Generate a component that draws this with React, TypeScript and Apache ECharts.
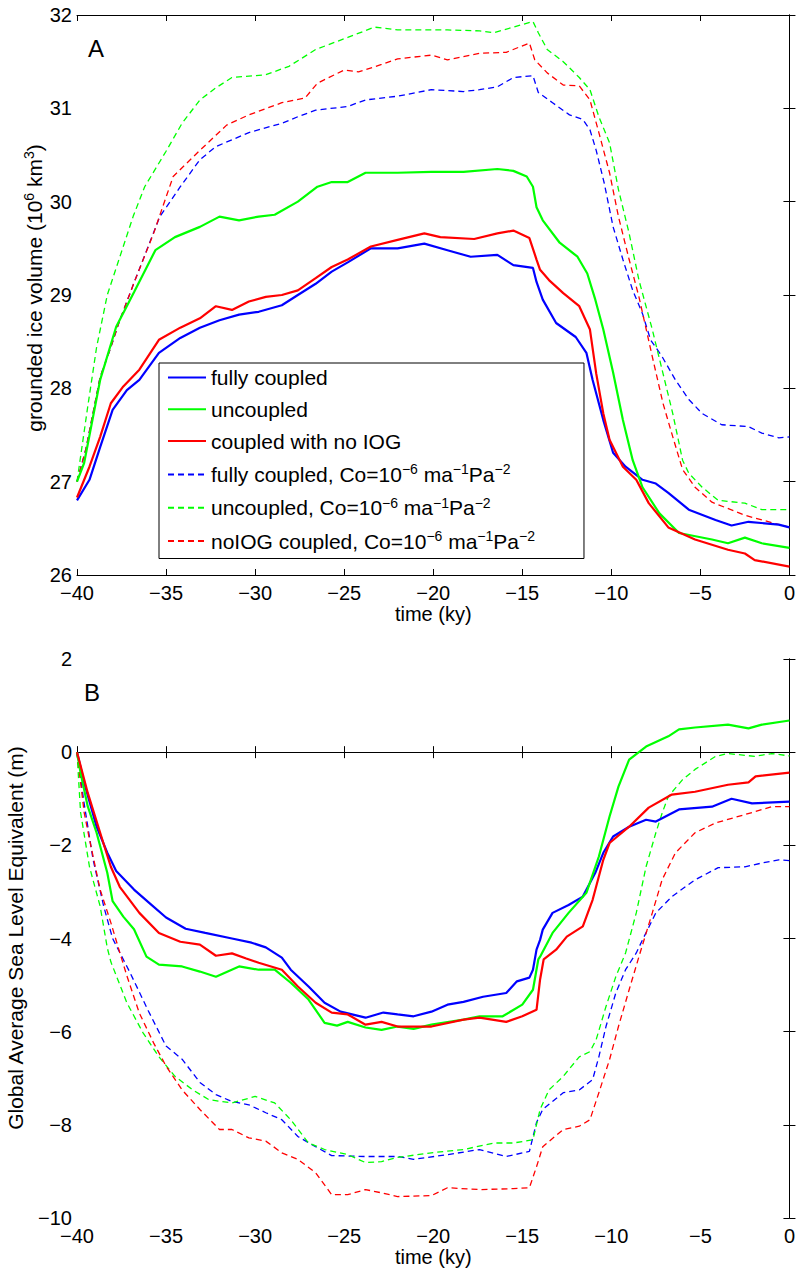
import React, { useEffect, useRef } from "react";
import * as echarts from "echarts";

// ---------- DATA (time in ky, values) ----------
const X_TICKS = [-40, -35, -30, -25, -20, -15, -10, -5, 0];
const A_TICKS = [26, 27, 28, 29, 30, 31, 32];
const B_TICKS = [-10, -8, -6, -4, -2, 0, 2];

const SERIES_NAMES = [
  "fully coupled",
  "uncoupled",
  "coupled with no IOG",
  "fully coupled, Co",
  "uncoupled, Co",
  "noIOG coupled, Co",
];

// Panel A: grounded ice volume (10^6 km^3)
const A_fully = [[-40, 26.8], [-39.3, 27.02], [-38.7, 27.37], [-38, 27.77], [-37.2, 27.98], [-36.5, 28.09], [-35.4, 28.38], [-34.2, 28.54], [-33.1, 28.65], [-32, 28.73], [-30.9, 28.79], [-29.8, 28.82], [-28.5, 28.89], [-27.6, 29.0], [-26.6, 29.12], [-25.7, 29.25], [-24.8, 29.35], [-23.5, 29.5], [-22, 29.5], [-20.5, 29.55], [-19.2, 29.48], [-17.9, 29.41], [-16.4, 29.43], [-15.5, 29.32], [-14.4, 29.29], [-14.2, 29.14], [-13.85, 28.95], [-13.1, 28.7], [-12, 28.55], [-11.4, 28.38], [-11.05, 28.09], [-10.45, 27.66], [-9.9, 27.31], [-9.2, 27.16], [-8.25, 27.02], [-7.5, 26.98], [-6.8, 26.88], [-5.65, 26.7], [-4.15, 26.59], [-3.25, 26.53], [-2.3, 26.57], [-0.6, 26.54], [0, 26.51]];
const A_uncoupled = [[-40, 27.0], [-39.6, 27.2], [-38.7, 28.09], [-37.8, 28.66], [-36.8, 29.03], [-35.6, 29.48], [-34.5, 29.62], [-33.1, 29.73], [-32, 29.84], [-30.9, 29.8], [-29.8, 29.84], [-28.9, 29.86], [-27.6, 30.0], [-26.5, 30.16], [-25.7, 30.21], [-24.8, 30.21], [-23.8, 30.31], [-22, 30.31], [-20.1, 30.32], [-18.3, 30.32], [-16.4, 30.35], [-15.5, 30.33], [-14.75, 30.27], [-14.4, 30.16], [-14.2, 29.94], [-13.85, 29.8], [-12.9, 29.56], [-11.9, 29.41], [-11.35, 29.23], [-10.9, 28.95], [-10.45, 28.63], [-9.9, 28.17], [-9.35, 27.66], [-8.8, 27.23], [-8.25, 26.94], [-7.3, 26.66], [-6.2, 26.45], [-4.35, 26.38], [-3.45, 26.34], [-2.5, 26.4], [-1.55, 26.34], [0, 26.29]];
const A_noIOG = [[-40, 26.83], [-39.3, 27.16], [-38.7, 27.48], [-38.1, 27.84], [-37.4, 28.02], [-36.5, 28.2], [-35.4, 28.52], [-34.2, 28.65], [-33.1, 28.75], [-32.2, 28.88], [-31.3, 28.84], [-30.35, 28.93], [-29.4, 28.98], [-28.5, 29.0], [-27.6, 29.05], [-26.6, 29.18], [-25.7, 29.3], [-24.8, 29.38], [-23.5, 29.52], [-22, 29.59], [-20.5, 29.66], [-19.6, 29.62], [-17.7, 29.6], [-16.4, 29.66], [-15.5, 29.69], [-14.6, 29.61], [-14.2, 29.38], [-14.0, 29.27], [-13.5, 29.16], [-12.7, 29.02], [-11.8, 28.88], [-11.2, 28.63], [-10.85, 28.16], [-10.45, 27.73], [-10.1, 27.45], [-9.35, 27.16], [-8.6, 27.02], [-7.9, 26.77], [-6.8, 26.51], [-5.3, 26.38], [-3.45, 26.27], [-2.5, 26.23], [-1.95, 26.16], [0, 26.09]];
const A_fullyCo = [[-40, 27.0], [-39.5, 27.35], [-38.7, 28.12], [-38.1, 28.44], [-37.6, 28.73], [-36.8, 29.13], [-35.35, 29.84], [-34.2, 30.16], [-33.1, 30.45], [-32.2, 30.59], [-30.35, 30.74], [-28.5, 30.84], [-27.6, 30.91], [-26.6, 30.98], [-24.8, 31.02], [-23.8, 31.09], [-22, 31.13], [-20.1, 31.2], [-18.3, 31.18], [-17.4, 31.2], [-16.4, 31.23], [-15.5, 31.33], [-14.4, 31.35], [-14.1, 31.17], [-13.3, 31.06], [-12.35, 30.93], [-11.6, 30.88], [-11.2, 30.77], [-10.85, 30.55], [-10.4, 30.2], [-9.9, 29.73], [-9.35, 29.38], [-8.8, 29.05], [-8.25, 28.8], [-7.8, 28.52], [-7.15, 28.34], [-6.4, 28.09], [-5.65, 27.88], [-4.9, 27.73], [-3.8, 27.61], [-2.3, 27.59], [-1.55, 27.52], [-0.6, 27.47], [0, 27.48]];
const A_uncoupledCo = [[-40, 27.0], [-39.4, 27.8], [-38.9, 28.44], [-38.3, 29.0], [-36.85, 29.84], [-36.2, 30.16], [-35, 30.54], [-34.1, 30.84], [-33.1, 31.09], [-32.2, 31.22], [-31.3, 31.33], [-29.4, 31.36], [-28.1, 31.45], [-26.6, 31.63], [-24.8, 31.76], [-23.3, 31.87], [-22, 31.84], [-19.2, 31.84], [-17.4, 31.83], [-16.6, 31.81], [-15.5, 31.87], [-14.4, 31.93], [-14.1, 31.81], [-13.6, 31.63], [-12.7, 31.5], [-11.8, 31.33], [-11.2, 31.2], [-10.7, 30.91], [-10.1, 30.63], [-9.6, 30.13], [-9.0, 29.66], [-8.45, 29.16], [-7.7, 28.63], [-7.1, 28.16], [-6.55, 27.73], [-6.0, 27.23], [-5.65, 27.09], [-4.9, 26.94], [-4.0, 26.8], [-2.5, 26.77], [-1.55, 26.7], [0, 26.7]];
const A_noIOGCo = [[-40, 27.0], [-39.5, 27.35], [-38.7, 28.12], [-38.1, 28.44], [-37.6, 28.73], [-36.8, 29.13], [-35.7, 29.66], [-34.6, 30.27], [-33.1, 30.55], [-31.6, 30.82], [-30.35, 30.93], [-28.5, 31.06], [-27.2, 31.11], [-26.5, 31.27], [-25, 31.41], [-24.2, 31.39], [-22.9, 31.47], [-22, 31.53], [-20.1, 31.57], [-19.2, 31.52], [-17.4, 31.59], [-15.9, 31.6], [-14.6, 31.7], [-14.3, 31.52], [-13.6, 31.38], [-12.7, 31.25], [-11.8, 31.24], [-11.2, 31.09], [-10.7, 30.74], [-10.1, 30.31], [-9.6, 29.84], [-9.0, 29.38], [-8.45, 28.98], [-7.7, 28.34], [-7.1, 27.84], [-6.55, 27.48], [-6.0, 27.13], [-5.3, 26.94], [-4.35, 26.78], [-2.5, 26.64], [-1.55, 26.59], [0, 26.51]];

// Panel B: global average sea level equivalent (m)
const B_fully = [[-40, 0], [-39.6, -0.65], [-38.9, -1.6], [-38.3, -2.16], [-37.8, -2.55], [-36.8, -2.95], [-35.9, -3.25], [-35, -3.55], [-33.9, -3.79], [-32.8, -3.88], [-31.3, -4.0], [-30.2, -4.09], [-29.4, -4.19], [-28.5, -4.41], [-28, -4.67], [-27, -5.03], [-26.1, -5.38], [-25.2, -5.57], [-23.8, -5.7], [-22.8, -5.59], [-22, -5.63], [-21.1, -5.67], [-20.1, -5.57], [-19.2, -5.42], [-18.3, -5.36], [-17.2, -5.25], [-15.9, -5.17], [-15.3, -4.92], [-14.6, -4.84], [-14.4, -4.67], [-14.2, -4.24], [-14.0, -4.03], [-13.85, -3.81], [-13.3, -3.45], [-12.4, -3.28], [-11.6, -3.1], [-10.9, -2.59], [-10.45, -2.16], [-9.9, -1.81], [-9.0, -1.6], [-8.05, -1.45], [-7.5, -1.49], [-6.2, -1.23], [-4.35, -1.17], [-3.25, -1.0], [-2.1, -1.1], [0, -1.06]];
const B_uncoupled = [[-40, 0], [-39.8, -0.44], [-39.4, -1.16], [-38.9, -1.73], [-38.3, -2.59], [-38, -3.2], [-37.4, -3.53], [-36.8, -3.8], [-36.1, -4.39], [-35.4, -4.56], [-34.1, -4.6], [-33.1, -4.71], [-32.2, -4.82], [-30.9, -4.6], [-29.8, -4.67], [-28.9, -4.67], [-28, -4.95], [-27, -5.31], [-26.1, -5.81], [-25.4, -5.87], [-24.8, -5.79], [-23.8, -5.91], [-22.9, -5.96], [-22, -5.89], [-21.1, -5.94], [-20.1, -5.85], [-18.3, -5.74], [-17.4, -5.67], [-16.1, -5.67], [-15, -5.42], [-14.4, -5.1], [-14.1, -4.45], [-14, -4.39], [-13.3, -3.88], [-12.4, -3.45], [-11.4, -3.02], [-10.7, -2.24], [-10.1, -1.38], [-9.6, -0.74], [-9.0, -0.16], [-8.05, 0.12], [-6.8, 0.34], [-6.2, 0.49], [-5.3, 0.53], [-3.45, 0.59], [-2.3, 0.51], [-1.55, 0.59], [0, 0.68]];
const B_noIOG = [[-40, 0], [-39.4, -0.87], [-38.7, -1.73], [-38.1, -2.46], [-37.6, -2.89], [-36.5, -3.45], [-35.4, -3.88], [-34.2, -4.07], [-33.1, -4.13], [-32.2, -4.37], [-31.3, -4.32], [-30.5, -4.43], [-29.8, -4.52], [-28.5, -4.67], [-27.6, -5.03], [-26.6, -5.38], [-25.7, -5.59], [-24.8, -5.63], [-23.8, -5.85], [-22.9, -5.79], [-22, -5.89], [-20.1, -5.89], [-18.3, -5.74], [-17.4, -5.7], [-15.9, -5.79], [-15, -5.67], [-14.2, -5.53], [-14, -4.88], [-13.8, -4.45], [-13.1, -4.24], [-12.5, -3.96], [-11.6, -3.74], [-11.05, -3.17], [-10.45, -2.31], [-10.1, -1.95], [-9.0, -1.6], [-7.9, -1.19], [-6.6, -0.91], [-5.3, -0.85], [-3.45, -0.7], [-2.3, -0.65], [-1.9, -0.52], [0, -0.44]];
const B_fullyCo = [[-40, 0], [-39.6, -1.1], [-39.1, -2.3], [-38.5, -3.31], [-38, -4.0], [-37, -4.75], [-36, -5.55], [-35, -6.31], [-34.1, -6.59], [-33.1, -7.09], [-32.2, -7.35], [-31.3, -7.5], [-30.35, -7.57], [-29.4, -7.74], [-28.5, -7.89], [-27.6, -8.25], [-26.6, -8.47], [-25.7, -8.66], [-23.8, -8.68], [-22, -8.68], [-21.1, -8.74], [-19.2, -8.64], [-17.4, -8.53], [-15.9, -8.68], [-14.6, -8.57], [-14.2, -7.95], [-13.85, -7.67], [-12.7, -7.31], [-11.8, -7.25], [-11.05, -7.03], [-10.7, -6.54], [-10.3, -5.89], [-9.75, -5.17], [-9.2, -4.67], [-8.6, -4.31], [-8.25, -4.03], [-7.5, -3.45], [-6.6, -3.1], [-5.3, -2.74], [-4.0, -2.48], [-2.5, -2.46], [-1.55, -2.38], [-0.6, -2.31], [0, -2.33]];
const B_uncoupledCo = [[-40, 0], [-39.8, -1.29], [-39.3, -2.46], [-38.7, -3.31], [-38.3, -4.2], [-38.1, -4.5], [-37.2, -5.38], [-36.3, -6.02], [-35.4, -6.54], [-34.5, -6.96], [-33.5, -7.25], [-32.6, -7.46], [-31.3, -7.53], [-30, -7.39], [-28.9, -7.53], [-28, -7.89], [-27, -8.39], [-26.1, -8.53], [-24.8, -8.64], [-23.8, -8.81], [-22.9, -8.79], [-22, -8.7], [-20.1, -8.6], [-18.3, -8.53], [-16.6, -8.39], [-15.5, -8.39], [-14.4, -8.32], [-14, -7.67], [-13.5, -7.25], [-12.7, -6.96], [-11.8, -6.54], [-11.2, -6.43], [-10.85, -6.17], [-10.3, -5.46], [-9.75, -4.82], [-9.2, -4.31], [-8.6, -3.45], [-8.05, -2.46], [-7.5, -1.73], [-7.15, -1.31], [-6.8, -0.95], [-6.0, -0.59], [-5.3, -0.37], [-4.15, -0.09], [-3.45, -0.03], [-1.95, -0.09], [-1.0, -0.03], [0, -0.08]];
const B_noIOGCo = [[-40, 0], [-39.6, -1.29], [-39.3, -1.87], [-38.7, -2.95], [-38.1, -3.66], [-37.6, -4.3], [-37.2, -4.8], [-36.5, -5.6], [-35.7, -6.24], [-35, -6.74], [-34.1, -7.25], [-33.1, -7.67], [-32, -8.1], [-31.3, -8.1], [-30.35, -8.28], [-29.4, -8.35], [-28.5, -8.6], [-27.6, -8.74], [-26.6, -9.03], [-25.7, -9.5], [-24.8, -9.5], [-23.8, -9.39], [-22.9, -9.46], [-22, -9.54], [-20.1, -9.52], [-19.2, -9.35], [-17.4, -9.39], [-15.5, -9.37], [-14.6, -9.35], [-14.2, -8.9], [-13.85, -8.47], [-12.7, -8.1], [-11.8, -8.03], [-11.2, -7.89], [-10.7, -7.31], [-10.1, -6.6], [-9.6, -5.89], [-9.0, -5.1], [-8.45, -4.39], [-7.7, -3.45], [-7.15, -2.74], [-6.4, -2.16], [-5.3, -1.73], [-4.15, -1.52], [-2.5, -1.34], [-1.0, -1.17], [0, -1.17]];

const PANEL_A = [A_fully, A_uncoupled, A_noIOG, A_fullyCo, A_uncoupledCo, A_noIOGCo];
const PANEL_B = [B_fully, B_uncoupled, B_noIOG, B_fullyCo, B_uncoupledCo, B_noIOGCo];
const COLORS = ["#0000ff", "#00ff00", "#ff0000", "#0000ff", "#00ff00", "#ff0000"];
const DASHED = [false, false, false, true, true, true];

const FONT = '"Liberation Sans", Arial, Helvetica, sans-serif';

const LEGEND_TEXT: Record<string, string> = {
  "fully coupled": "{n|fully coupled}",
  "uncoupled": "{n|uncoupled}",
  "coupled with no IOG": "{n|coupled with no IOG}",
  "fully coupled, Co": "{n|fully coupled, Co=10}{s|\u22126}{n| ma}{s|\u22121}{n|Pa}{s|\u22122}",
  "uncoupled, Co": "{n|uncoupled, Co=10}{s|\u22126}{n| ma}{s|\u22121}{n|Pa}{s|\u22122}",
  "noIOG coupled, Co": "{n|noIOG coupled, Co=10}{s|\u22126}{n| ma}{s|\u22121}{n|Pa}{s|\u22122}",
};

const fmt = (v: number) => (v < 0 ? "\u2212" + Math.abs(v) : String(v));

function buildOption() {
  const grids = [
    { left: 77, top: 15, width: 717, height: 560 },
    { left: 77, top: 659, width: 717, height: 559 },
  ];
  const axisLine = { show: true, lineStyle: { color: "#000", width: 1 } };
  const tick = { show: true, inside: true, length: 6, lineStyle: { color: "#000", width: 1 } };
  const xAxes: any[] = [];
  const yAxes: any[] = [];
  const yRanges = [
    { min: A_TICKS[0], max: A_TICKS[A_TICKS.length - 1], interval: A_TICKS[1] - A_TICKS[0] },
    { min: B_TICKS[0], max: B_TICKS[B_TICKS.length - 1], interval: B_TICKS[1] - B_TICKS[0] },
  ];
  [0, 1].forEach((g) => {
    xAxes.push({
      type: "value", gridIndex: g, position: "bottom",
      min: X_TICKS[0], max: X_TICKS[X_TICKS.length - 1], interval: X_TICKS[1] - X_TICKS[0],
      axisLine, axisTick: tick, splitLine: { show: false },
      axisLabel: { show: true, fontSize: 20, color: "#000", fontFamily: FONT, margin: 8, formatter: fmt },
      name: "time (ky)", nameLocation: "middle", nameGap: 29,
      nameTextStyle: { fontSize: 20, color: "#000", fontFamily: FONT },
    });
    xAxes.push({
      type: "value", gridIndex: g, position: "top",
      min: X_TICKS[0], max: X_TICKS[X_TICKS.length - 1], interval: X_TICKS[1] - X_TICKS[0],
      axisLine, axisTick: tick, splitLine: { show: false }, axisLabel: { show: false },
    });
    yAxes.push({
      type: "value", gridIndex: g, position: "left", ...yRanges[g],
      axisLine, axisTick: tick, splitLine: { show: false },
      axisLabel: { show: true, fontSize: 20, color: "#000", fontFamily: FONT, margin: 5, formatter: fmt },
    });
    yAxes.push({
      type: "value", gridIndex: g, position: "right", ...yRanges[g],
      axisLine, axisTick: tick, splitLine: { show: false }, axisLabel: { show: false },
    });
  });

  const series: any[] = [];
  [PANEL_A, PANEL_B].forEach((panel, g) => {
    panel.forEach((data, i) => {
      series.push({
        type: "line",
        name: SERIES_NAMES[i],
        xAxisIndex: g * 2,
        yAxisIndex: g * 2,
        data,
        symbol: "none",
        showSymbol: false,
        clip: true,
        itemStyle: { color: COLORS[i] },
        lineStyle: {
          color: COLORS[i],
          width: DASHED[i] ? 1.3 : 2.2,
          type: DASHED[i] ? [6, 4] : "solid",
        },
        emphasis: { disabled: true },
        z: DASHED[i] ? 2 : 3,
      });
    });
  });

  const richLabel = {
    n: { fontSize: 21, lineHeight: 24, fontFamily: FONT, color: "#000" },
    s: { fontSize: 14, lineHeight: 14, fontFamily: FONT, color: "#000", verticalAlign: "top" },
  };

  return {
    animation: false,
    backgroundColor: "#fff",
    textStyle: { fontFamily: FONT },
    grid: grids,
    xAxis: xAxes,
    yAxis: yAxes,
    series,
    legend: {
      show: true,
      data: SERIES_NAMES,
      orient: "vertical",
      left: 159,
      top: 363,
      padding: [4, 49, 7, 8],
      itemGap: 10.8,
      itemWidth: 38,
      itemHeight: 14,
      itemStyle: { opacity: 0 },
      backgroundColor: "#fff",
      borderColor: "#000",
      borderWidth: 1,
      borderRadius: 0,
      selectedMode: false,
      formatter: (name: string) => LEGEND_TEXT[name] || name,
      textStyle: { fontSize: 21, color: "#000", fontFamily: FONT, rich: richLabel },
    },
    graphic: [
      {
        type: "text", x: 96, y: 48, z: 10,
        style: { text: "A", fontSize: 24, fontFamily: FONT, fill: "#000", align: "center", verticalAlign: "middle" },
      },
      {
        type: "text", x: 92, y: 692, z: 10,
        style: { text: "B", fontSize: 24, fontFamily: FONT, fill: "#000", align: "center", verticalAlign: "middle" },
      },
      {
        type: "text", x: 34, y: 288, rotation: Math.PI / 2, z: 10,
        style: {
          text: "{n|grounded ice volume (10}{s|6}{n| km}{s|3}{n|)}",
          rich: richLabel, align: "center", verticalAlign: "middle", fontFamily: FONT, fill: "#000",
        },
      },
      {
        type: "text", x: 15, y: 938, rotation: Math.PI / 2, z: 10,
        style: {
          text: "Global Average Sea Level Equivalent (m)",
          fontSize: 21, fontFamily: FONT, fill: "#000", align: "center", verticalAlign: "middle",
        },
      },
    ],
  };
}

export default function App() {
  const ref = useRef<HTMLDivElement>(null);
  useEffect(() => {
    if (!ref.current) return;
    const chart = echarts.init(ref.current, null, { renderer: "svg" });
    chart.setOption(buildOption() as any);
    return () => chart.dispose();
  }, []);
  return (
    <div
      ref={ref}
      style={{ position: "absolute", left: 0, top: 0, width: 798, height: 1270, background: "#fff" }}
    />
  );
}
